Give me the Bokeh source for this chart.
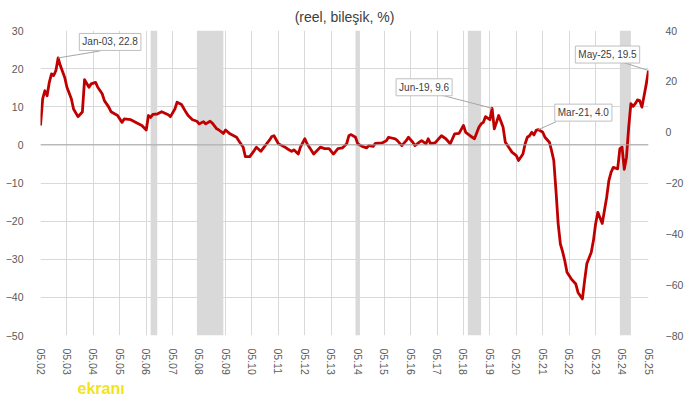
from bokeh.plotting import figure
from bokeh.models import Range1d, LinearAxis, FixedTicker, Span, Label, Title
from bokeh.embed import file_html
from bokeh.resources import INLINE

# ---------------- data ----------------
title_text = "(reel, bileşik, %)"
watermark_text = "ekranı"

tick_labels = ["05.02", "05.03", "05.04", "05.05", "05.06", "05.07", "05.08", "05.09",
               "05.10", "05.11", "05.12", "05.13", "05.14", "05.15", "05.16", "05.17",
               "05.18", "05.19", "05.20", "05.21", "05.22", "05.23", "05.24", "05.25"]

# months counted from May 2002 (0) to May 2025 (276)
months = [0, 1, 2, 3, 4, 5, 6, 7, 8, 9, 11, 12, 14, 15, 17, 19, 20, 22, 23, 25, 26, 28, 29,
          31, 32, 35, 37, 38, 41, 44, 46, 48, 49, 50, 51, 53, 55, 58, 59, 61, 62, 64, 66, 67,
          69, 71, 72, 74, 75, 77, 78, 80, 81, 83, 84, 86, 89, 90, 92, 93, 95, 97, 98, 100,
          102, 104, 105, 106, 108, 109, 111, 112, 114, 115, 117, 118, 120, 121, 123, 124,
          127, 129, 131, 133, 135, 137, 139, 140, 141, 143, 144, 146, 148, 149, 151, 152,
          155, 157, 158, 161, 162, 164, 166, 167, 169, 170, 172, 173, 175, 176, 177, 179,
          180, 182, 184, 186, 188, 190, 192, 193, 195, 197, 199, 200, 201, 202, 204, 205,
          206, 207, 208, 210, 211, 213, 214, 216, 217, 219, 220, 221, 222, 223, 224, 225,
          226, 228, 229, 231, 232, 233, 234, 235, 236, 237, 238, 239, 241, 243, 244, 246,
          247, 248, 250, 251, 252, 253, 255, 256, 257, 258, 259, 260, 262, 263, 264, 265,
          266, 267, 268, 269, 270, 271, 272, 273, 274, 275, 276]

values = [5.1, 12.1, 14.2, 12.9, 16.4, 18.6, 18.2, 19.5, 22.8, 20.8, 17.7, 15.1, 12.1, 9.4,
          7.4, 8.6, 17.1, 15.1, 16.0, 16.4, 15.1, 13.4, 11.6, 9.9, 8.7, 7.7, 5.9, 6.8, 6.6,
          5.7, 5.1, 3.9, 7.7, 7.2, 8.0, 8.1, 8.7, 7.9, 7.4, 9.4, 11.2, 10.6, 8.6, 7.7, 6.6,
          6.2, 5.5, 6.1, 5.5, 6.2, 5.7, 4.2, 3.9, 3.0, 3.9, 2.9, 2.0, 1.1, -0.6, -3.1, -3.1,
          -1.5, -0.6, -1.7, -0.2, 1.3, 2.2, 2.4, 0.3, 0.0, -0.6, -1.0, -1.7, -1.3, -2.4,
          -0.6, 1.6, 0.3, -1.5, -2.4, -0.6, -1.0, -1.0, -2.4, -1.0, -0.8, 0.3, 2.4, 2.7,
          2.0, 0.3, -0.4, -0.8, -0.2, -0.4, 0.4, 0.5, 1.1, 2.0, 1.6, 1.1, -0.2, 1.1, 2.0,
          0.7, -0.2, 0.7, 1.1, 0.3, 1.6, 0.4, 0.5, 1.1, 2.4, 1.6, 0.3, 2.9, 3.0, 5.1, 3.3,
          2.4, 1.6, 4.6, 5.5, 5.9, 7.4, 6.6, 9.6, 4.2, 5.9, 7.7, 4.6, 0.7, -1.0, -1.9, -2.8,
          -4.1, -2.4, 0.3, 2.0, 2.4, 3.3, 2.6, 3.8, 4.0, 3.3, 2.0, 0.7, -1.5, -4.1, -12.0,
          -20.7, -26.0, -28.0, -30.4, -33.4, -35.2, -36.5, -38.7, -40.4, -35.6, -31.2,
          -28.2, -25.1, -20.7, -17.7, -20.6, -17.2, -13.8, -9.4, -7.2, -5.9, -6.3, -1.0,
          -0.6, -6.4, -3.3, 4.6, 10.8, 10.1, 10.8, 11.8, 11.6, 9.9, 12.9, 16.0, 19.5]

# shaded periods (year-month)
band_start = ["2006-07", "2008-04", "2014-04", "2018-07", "2024-04"]
band_end = ["2006-10", "2009-04", "2014-06", "2019-01", "2024-09"]

# callouts
callout_text = ["Jan-03, 22.8", "Jun-19, 9.6", "Mar-21, 4.0", "May-25, 19.5"]
callout_month = [8, 205, 226, 276]
callout_value = [22.8, 9.6, 4.0, 19.5]

left_ticks = [-50, -40, -30, -20, -10, 0, 10, 20, 30]
right_ticks = [-80, -60, -40, -20, 0, 20, 40]

# ---------------- layout constants ----------------
FW, FH = 608, 305
X0, X1 = 0, 276
Y0, Y1 = -50, 30
R0, R1 = -80, 40
xs = FW / (X1 - X0)   # px per month
ys = FH / (Y1 - Y0)   # px per unit

# box centre offsets / leader end offsets (pixels, +x right, +y up)
box_off = [(52, 16), (-68, 21), (45, 17), (-41, 16)]
lead_off = [(42, 7), (-50, 13), (18, 8), (-25, 8)]

def midx(s):
    y, m = map(int, s.split("-"))
    return (y - 2002) * 12 + (m - 5)

FONT = "Liberation Sans"
TXT = "#595959"

p = figure(frame_width=FW, frame_height=FH,
           x_range=Range1d(X0, X1), y_range=Range1d(Y0, Y1),
           output_backend="svg", toolbar_location=None,
           min_border_left=40, min_border_right=38,
           min_border_top=30, min_border_bottom=60)
p.outline_line_color = None
p.background_fill_color = "white"
p.border_fill_color = "white"

p.title.text = title_text
p.title.align = "center"
p.title.text_font = FONT
p.title.text_font_size = "14px"
p.title.text_font_style = "normal"
p.title.text_color = "#404040"
p.title.standoff = 11

# bands
p.quad(left=[midx(s) for s in band_start], right=[midx(e) for e in band_end],
       bottom=Y0, top=Y1, fill_color="#d9d9d9", line_color=None)

# zero line
p.add_layout(Span(location=0, dimension="width", line_color="#a6a6a6", line_width=1))

# series
p.line(months, values, line_color="#C00000", line_width=2.8, line_join="round")

# axes
p.xaxis.ticker = FixedTicker(ticks=[i * 12 for i in range(len(tick_labels))])
p.xaxis.major_label_overrides = {i * 12: t for i, t in enumerate(tick_labels)}
p.xaxis.major_label_orientation = "vertical"
p.yaxis.ticker = FixedTicker(ticks=left_ticks)

p.extra_y_ranges = {"right": Range1d(R0, R1)}
rax = LinearAxis(y_range_name="right", ticker=FixedTicker(ticks=right_ticks))
p.add_layout(rax, "right")

for ax in [p.xaxis[0], p.yaxis[0], rax]:
    ax.axis_line_color = None
    ax.major_tick_line_color = None
    ax.minor_tick_line_color = None
    ax.major_label_text_font = FONT
    ax.major_label_text_font_size = "10.5px"
    ax.major_label_text_color = TXT
p.xaxis.major_label_standoff = 7
p.yaxis[0].major_label_standoff = 11
rax.major_label_standoff = 11

p.xgrid.grid_line_color = "#d9d9d9"
p.ygrid.grid_line_color = "#d9d9d9"
p.xgrid.ticker = FixedTicker(ticks=[i * 12 for i in range(len(tick_labels))])
p.ygrid.ticker = FixedTicker(ticks=left_ticks)

# leader lines
x0s, y0s, x1s, y1s = [], [], [], []
for m, v, (dx, dy) in zip(callout_month, callout_value, lead_off):
    x0s.append(m); y0s.append(v)
    x1s.append(m + dx / xs); y1s.append(v + dy / ys)
p.segment(x0s, y0s, x1s, y1s, line_color="#a6a6a6", line_width=1)

# callout boxes
for t, m, v, (dx, dy) in zip(callout_text, callout_month, callout_value, box_off):
    p.add_layout(Label(x=m, y=v, x_offset=dx, y_offset=dy, text=t,
                       text_align="center", text_baseline="middle",
                       text_font=FONT, text_font_size="10px", text_color="#404040",
                       background_fill_color="white", border_line_color="#bfbfbf",
                       border_line_width=1, padding=3))

# watermark below the axis
wm = Title(text=watermark_text, align="left", offset=37, standoff=0,
           text_font=FONT, text_font_size="16px", text_font_style="bold",
           text_color="#f2e31a")
p.add_layout(wm, "below")

open("out.html", "w").write(file_html(p, INLINE))
